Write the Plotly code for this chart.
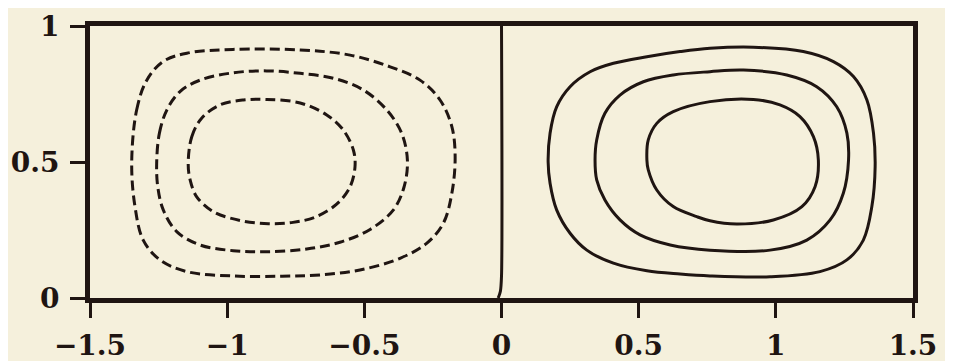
import plotly.graph_objects as go

# contour lines (data coordinates)
# left cell (negative values, dashed)
neg_outer_x = [-1.348, -1.330, -1.293, -1.234, -1.147, -0.979, -0.734, -0.552, -0.406, -0.297, -0.224,
               -0.181, -0.169, -0.181, -0.212, -0.273, -0.370, -0.516, -0.662, -0.800, -0.979, -1.147,
               -1.245, -1.306, -1.336]
neg_outer_y = [0.495, 0.691, 0.801, 0.869, 0.900, 0.914, 0.912, 0.893, 0.850, 0.801, 0.728,
               0.630, 0.519, 0.385, 0.275, 0.201, 0.146, 0.103, 0.085, 0.080, 0.081, 0.097,
               0.140, 0.213, 0.336]

neg_mid_x = [-1.257, -1.247, -1.220, -1.172, -1.099, -0.978, -0.856, -0.734, -0.613, -0.504, -0.418,
             -0.364, -0.343, -0.355, -0.394, -0.479, -0.589, -0.710, -0.856, -0.978, -1.099, -1.184,
             -1.233, -1.253]
neg_mid_y = [0.495, 0.606, 0.691, 0.759, 0.801, 0.828, 0.835, 0.826, 0.808, 0.765, 0.691,
             0.606, 0.507, 0.409, 0.324, 0.252, 0.205, 0.180, 0.170, 0.174, 0.195, 0.244,
             0.324, 0.409]

neg_inner_x = [-1.142, -1.129, -1.093, -1.026, -0.941, -0.856, -0.734, -0.637, -0.577, -0.540,
               -0.534, -0.552, -0.601, -0.680, -0.760, -0.850, -0.953, -1.050, -1.111, -1.135]
neg_inner_y = [0.495, 0.593, 0.661, 0.710, 0.728, 0.730, 0.717, 0.673, 0.618, 0.544,
               0.483, 0.409, 0.345, 0.297, 0.278, 0.273, 0.285, 0.317, 0.372, 0.434]

# right cell (positive values, solid)
pos_outer_x = [0.170, 0.177, 0.201, 0.250, 0.323, 0.408, 0.530, 0.651, 0.760, 0.918, 1.100, 1.210,
               1.283, 1.332, 1.356, 1.362, 1.350, 1.319, 1.259, 1.161, 0.979, 0.760, 0.651, 0.530,
               0.408, 0.311, 0.250, 0.201, 0.177]
pos_outer_y = [0.500, 0.606, 0.703, 0.777, 0.832, 0.863, 0.887, 0.906, 0.918, 0.922, 0.906, 0.869,
               0.814, 0.728, 0.606, 0.483, 0.336, 0.213, 0.140, 0.097, 0.078, 0.081, 0.088, 0.100,
               0.128, 0.176, 0.238, 0.324, 0.422]

pos_mid_x = [0.341, 0.347, 0.377, 0.432, 0.517, 0.626, 0.760, 0.882, 1.040, 1.149, 1.222, 1.259,
             1.265, 1.246, 1.198, 1.113, 0.979, 0.760, 0.615, 0.505, 0.432, 0.377, 0.347]
pos_mid_y = [0.507, 0.581, 0.679, 0.746, 0.795, 0.820, 0.832, 0.838, 0.820, 0.777, 0.703, 0.606,
             0.507, 0.385, 0.287, 0.213, 0.176, 0.176, 0.195, 0.232, 0.287, 0.360, 0.434]

pos_inner_x = [0.530, 0.535, 0.566, 0.626, 0.760, 0.918, 1.015, 1.088, 1.137, 1.155, 1.143,
               1.095, 0.991, 0.857, 0.760, 0.712, 0.626, 0.566, 0.535]
pos_inner_y = [0.507, 0.581, 0.642, 0.685, 0.722, 0.730, 0.710, 0.667, 0.593, 0.507, 0.409,
               0.336, 0.287, 0.272, 0.284, 0.299, 0.336, 0.397, 0.471]

# zero line between the cells
zero_x = [0.0, 0.0, -0.004, -0.012]
zero_y = [1.0, 0.08, 0.025, 0.0]

x_ticks = [-1.5, -1, -0.5, 0, 0.5, 1, 1.5]
x_labels = ["\u22121.5", "\u22121", "\u22120.5", "0", "0.5", "1", "1.5"]
y_ticks = [0, 0.5, 1]
y_labels = ["0", "0.5", "1"]

INK = "#1f1512"
BG = "#f5f0dc"


def closed(xs, ys):
    return xs + xs[:1], ys + ys[:1]


fig = go.Figure()

for xs, ys in [(neg_outer_x, neg_outer_y), (neg_mid_x, neg_mid_y), (neg_inner_x, neg_inner_y)]:
    cx, cy = closed(xs, ys)
    fig.add_trace(go.Scatter(x=cx, y=cy, mode="lines",
                             line=dict(color=INK, width=3, dash="10px,5px", shape="spline", smoothing=1.0),
                             hoverinfo="skip"))

for xs, ys in [(pos_outer_x, pos_outer_y), (pos_mid_x, pos_mid_y), (pos_inner_x, pos_inner_y)]:
    cx, cy = closed(xs, ys)
    fig.add_trace(go.Scatter(x=cx, y=cy, mode="lines",
                             line=dict(color=INK, width=3, shape="spline", smoothing=1.0),
                             hoverinfo="skip"))

fig.add_trace(go.Scatter(x=zero_x, y=zero_y, mode="lines",
                         line=dict(color=INK, width=3, shape="spline", smoothing=0.8),
                         hoverinfo="skip"))

axis_common = dict(
    showgrid=False, zeroline=False, automargin=False,
    showline=True, linecolor=INK, linewidth=5, mirror=True,
    ticks="outside", ticklen=15, tickwidth=3, tickcolor=INK,
    tickfont=dict(family="DejaVu Serif", size=28, color=INK, weight="bold"),
)

fig.update_xaxes(range=[-1.5, 1.5], tickvals=x_ticks, ticktext=x_labels,
                 ticklabelstandoff=3, **axis_common)
fig.update_yaxes(range=[0, 1], tickvals=y_ticks, ticktext=y_labels,
                 ticklabelstandoff=5, **axis_common)

# the page body has an 8px margin, so the figure is sized to fit the window
fig.update_layout(
    width=945, height=353,
    showlegend=False,
    paper_bgcolor=BG, plot_bgcolor=BG,
    margin=dict(l=82, r=40, t=18, b=63),
)

fig.write_html("out.html")
